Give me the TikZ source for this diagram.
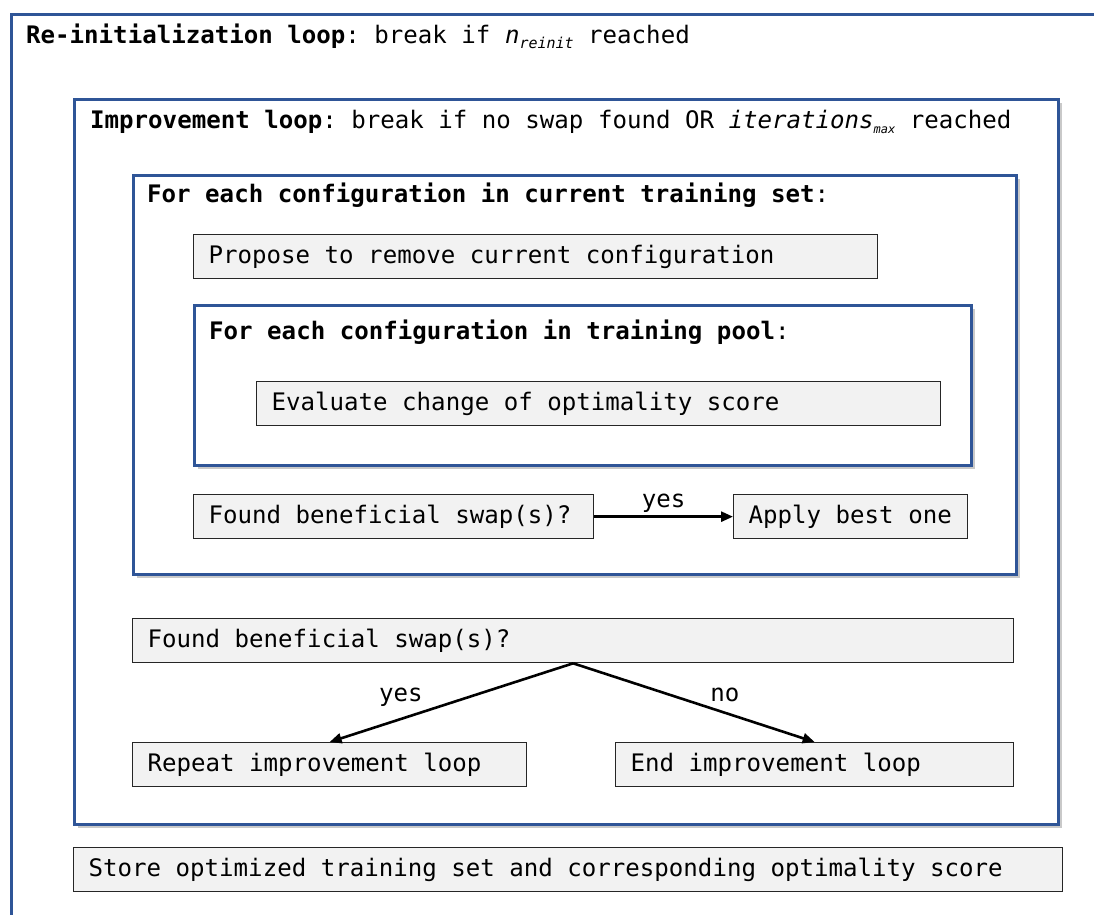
\documentclass[tikz,border=0pt]{standalone}
\usepackage{fontspec}
\setmonofont{DejaVu Sans Mono}
\usepackage{xcolor}
\usetikzlibrary{arrows.meta, positioning, shadows}
\definecolor{loopblue}{RGB}{47,85,151}
\definecolor{boxgray}{RGB}{242,242,242}
\newcommand{\lowtext}[2]{\raisebox{-5pt}{\fontsize{#1}{#1}\selectfont\itshape #2}}
\newcommand{\steptext}[2]{\makebox[#1][l]{#2}}

\begin{document}
\begin{tikzpicture}[
    x=1pt, y=-1pt,
    font=\ttfamily\fontsize{24.1}{28}\selectfont,
    loopframe/.style={
        rectangle, draw=loopblue, line width=3pt, fill=white,
        anchor=north west, inner sep=0pt
    },
    shade/.style={drop shadow={shadow xshift=3pt, shadow yshift=-3pt, fill=black!60, opacity=0.35}},
    stepbox/.style={
        rectangle, draw=black!85, line width=1.3pt, fill=boxgray,
        anchor=north west, minimum height=44pt, inner xsep=15pt, inner ysep=0pt
    },
    head/.style={anchor=west, inner sep=0pt},
    arr/.style={-{Triangle[length=12pt, width=10pt]}, line width=2.6pt},
    lbl/.style={inner sep=3pt}
]
    \useasboundingbox (0,0) rectangle (1094,914);
    \clip (0,0) rectangle (1094,914);

    %% --- Loop frames ---
    \node[loopframe, minimum width=1200pt, minimum height=1000pt] (reinit) at (10,13) {};
    \node[loopframe, shade, minimum width=984pt, minimum height=725pt] (improve) at (73,98) {};
    \node[loopframe, shade, minimum width=883pt, minimum height=399pt] (current) at (132,174) {};
    \node[loopframe, shade, minimum width=777pt, minimum height=160pt] (pool) at (193,304) {};

    %% --- Loop headers ---
    \node[head] (reinit-head) at (26,36)
        {\textbf{Re-initialization loop}: break if \textit{n}\lowtext{15}{reinit} reached};
    \node[head] (improve-head) at (90,122)
        {\textbf{Improvement loop}: break if no swap found OR \textit{iterations}\lowtext{12}{max} reached};
    \node[head] (current-head) at (147,195)
        {\textbf{For each configuration in current training set}:};
    \node[head] (pool-head) at (209,332)
        {\textbf{For each configuration in training pool}:};

    %% --- Steps ---
    \node[stepbox] (propose) at (193,234) {\steptext{654pt}{Propose to remove current configuration}};
    \node[stepbox] (evaluate) at (256,381) {\steptext{654pt}{Evaluate change of optimality score}};
    \node[stepbox] (found1) at (193,494) {\steptext{370pt}{Found beneficial swap(s)?}};
    \node[stepbox] (apply) at (733,494) {\steptext{204pt}{Apply best one}};
    \node[stepbox] (found2) at (132,618) {\steptext{851pt}{Found beneficial swap(s)?}};
    \node[stepbox] (repeat) at (132,742) {\steptext{364pt}{Repeat improvement loop}};
    \node[stepbox] (endloop) at (615,742) {\steptext{368pt}{End improvement loop}};
    \node[stepbox] (store) at (73,847) {\steptext{959pt}{Store optimized training set and corresponding optimality score}};

    %% --- Arrows ---
    \draw[arr] (found1) -- node[lbl, above] (yes1) {yes} (apply);
    \draw[arr] (found2.south) -- node[lbl, pos=0.6, above left] (yes2) {yes} (repeat.north);
    \draw[arr] (found2.south) -- node[lbl, pos=0.55, above right] (no2) {no} (endloop.north);
\end{tikzpicture}
\end{document}
